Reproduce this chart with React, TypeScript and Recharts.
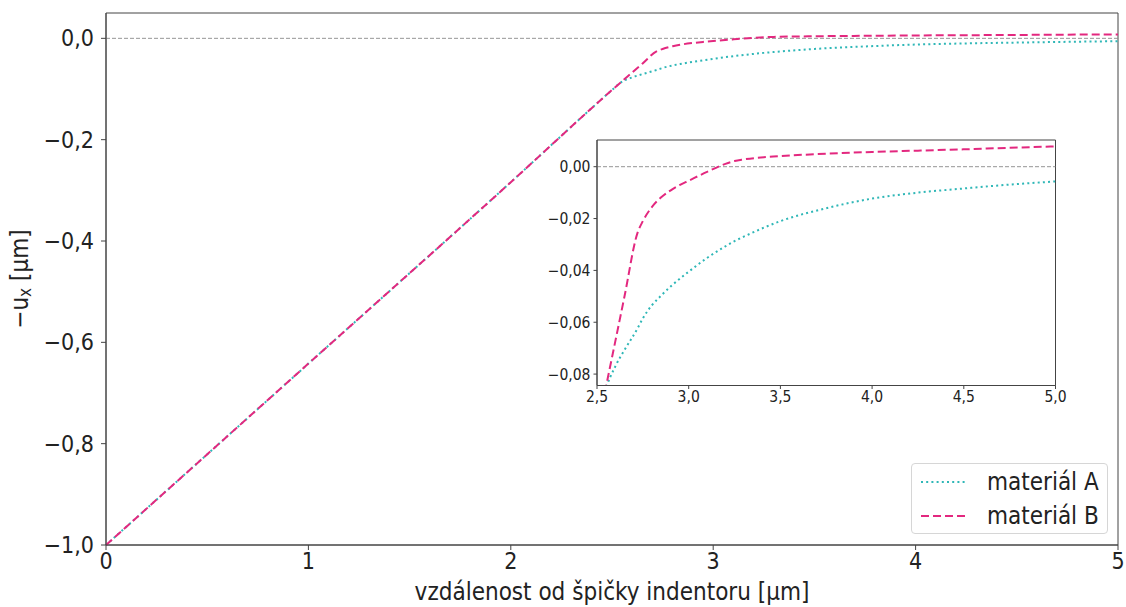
import { LineChart, Line, XAxis, YAxis, ReferenceLine, ReferenceArea, CartesianGrid } from 'recharts';

// distance from the indenter tip [μm]
const xValues = [0, 1, 2, 2.5, 2.54, 2.6, 2.65, 2.72, 2.75, 2.8, 2.85, 2.9, 2.95, 3.0, 3.1, 3.2, 3.25, 3.3, 3.5, 3.75, 4.0, 4.25, 4.5, 4.75, 5.0];
const materialA = [-1, -0.642, -0.284, -0.102, -0.088, -0.077, -0.0707, -0.0625, -0.0585, -0.0534, -0.0497, -0.0463, -0.0433, -0.0405, -0.0352, -0.0307, -0.0287, -0.027, -0.021, -0.016, -0.0123, -0.01, -0.0084, -0.0069, -0.0057];
const materialB = [-1, -0.642, -0.284, -0.102, -0.088, -0.0673, -0.05, -0.0257, -0.021, -0.0155, -0.0118, -0.0092, -0.0071, -0.0054, -0.002, 0.0011, 0.0022, 0.0028, 0.0041, 0.005, 0.0057, 0.0062, 0.0067, 0.0073, 0.0078];

const mainXTicks = [0, 1, 2, 3, 4, 5];
const mainYTicks = [-1, -0.8, -0.6, -0.4, -0.2, 0];
const insetXTicks = [2.5, 3, 3.5, 4, 4.5, 5];
const insetYTicks = [-0.08, -0.06, -0.04, -0.02, 0];

const COLOR_A = '#2fb7b7';
const COLOR_B = '#e3287f';
const FONT = '"DejaVu Sans Condensed", "DejaVu Sans", sans-serif';
const AXIS = '#444';
const TEXT = '#222';

const data = xValues.map((x, i) => ({ x, a: materialA[i], b: materialB[i] }));

const fmt = (digits: number) => (v: number) => {
  const s = Math.abs(v).toFixed(digits).replace('.', ',');
  return v < -1e-9 ? '\u2212' + s : s;
};

function YLabel({ viewBox }: any) {
  const cx = 20;
  const cy = viewBox ? viewBox.y + viewBox.height / 2 : 279;
  return (
    <text x={cx} y={cy} transform={`rotate(-90 ${cx} ${cy})`} textAnchor="middle" dominantBaseline="central"
      fontFamily={FONT} fontSize={24} fill={TEXT}>
      {'\u2212u'}
      <tspan fontSize={17} dy={5}>x</tspan>
      <tspan dy={-5}>{' [\u03bcm]'}</tspan>
    </text>
  );
}

function XLabel({ viewBox }: any) {
  const cx = viewBox ? viewBox.x + viewBox.width / 2 : 612;
  return (
    <text x={cx} y={600} textAnchor="middle" fontFamily={FONT} fontSize={24} fill={TEXT}>
      vzdálenost od špičky indentoru [μm]
    </text>
  );
}

function LegendBox() {
  const row = (color: string, dash: string, label: string) => (
    <div style={{ display: 'flex', alignItems: 'center', height: 34 }}>
      <svg width={48} height={10} style={{ marginLeft: 9 }}>
        <line x1={0} y1={5} x2={45} y2={5} stroke={color} strokeWidth={2} strokeDasharray={dash} />
      </svg>
      <span style={{ marginLeft: 18, fontSize: 24, color: TEXT, fontFamily: FONT, lineHeight: '34px' }}>{label}</span>
    </div>
  );
  return (
    <div style={{ position: 'absolute', left: 911, top: 463, border: '1px solid #d6d6d6', borderRadius: 4, background: '#fff', padding: '1px 0', width: 197, height: 71, boxSizing: 'border-box' }}>
      {row(COLOR_A, '2 3.2', 'materiál A')}
      {row(COLOR_B, '8 4', 'materiál B')}
    </div>
  );
}

export default function App() {
  return (
    <div style={{ position: 'absolute', left: 0, top: 0, width: 1126, height: 607, background: '#fff', fontFamily: FONT }}>
      <LineChart width={1126} height={607} data={data} margin={{ top: 13, right: 8, bottom: 22, left: 46 }}>
        <XAxis dataKey="x" type="number" domain={[0, 5]} ticks={mainXTicks} tickFormatter={(v: number) => String(v)}
          height={40} tickSize={5} tickMargin={3} stroke={AXIS} tick={{ fontSize: 23, fill: TEXT, fontFamily: FONT }}
          label={<XLabel />} />
        <YAxis type="number" domain={[-1, 0.05]} ticks={mainYTicks} tickFormatter={fmt(1)} width={60}
          tickSize={5} tickMargin={7} stroke={AXIS} tick={{ fontSize: 23, fill: TEXT, fontFamily: FONT }} label={<YLabel />} />
        <ReferenceArea x1={0} x2={5} y1={-1} y2={0.05} fill="none" stroke={AXIS} strokeWidth={1} />
        <ReferenceLine y={0} stroke="#8a8a8a" strokeWidth={0.9} strokeDasharray="4 2" />
        <Line type="monotone" dataKey="a" stroke={COLOR_A} strokeWidth={2} strokeDasharray="2 3.2" dot={false} isAnimationActive={false} />
        <Line type="monotone" dataKey="b" stroke={COLOR_B} strokeWidth={2} strokeDasharray="8 4" dot={false} isAnimationActive={false} />
      </LineChart>

      <div style={{ position: 'absolute', left: 540, top: 130 }}>
        <LineChart width={530} height={280} data={data} margin={{ top: 10, right: 14.5, bottom: 4.5, left: 7 }}>
          <CartesianGrid horizontal={false} vertical={false} fill="#fff" fillOpacity={1} />
          <XAxis dataKey="x" type="number" domain={[2.5, 5]} ticks={insetXTicks} tickFormatter={fmt(1)} allowDataOverflow
            height={20} tickSize={3.5} tickMargin={2} stroke={AXIS} tick={{ fontSize: 15.5, fill: TEXT, fontFamily: FONT }} />
          <YAxis type="number" domain={[-0.0844, 0.0103]} ticks={insetYTicks} tickFormatter={fmt(2)} allowDataOverflow width={50}
            tickSize={3.5} tickMargin={3} stroke={AXIS} tick={{ fontSize: 15.5, fill: TEXT, fontFamily: FONT }} />
          <ReferenceArea x1={2.5} x2={5} y1={-0.0844} y2={0.0103} fill="none" stroke={AXIS} strokeWidth={1} />
          <ReferenceLine y={0} stroke="#8a8a8a" strokeWidth={0.9} strokeDasharray="4 2" />
          <Line type="monotone" dataKey="a" stroke={COLOR_A} strokeWidth={2} strokeDasharray="2 3.2" dot={false} isAnimationActive={false} />
          <Line type="monotone" dataKey="b" stroke={COLOR_B} strokeWidth={2} strokeDasharray="8 4" dot={false} isAnimationActive={false} />
        </LineChart>
      </div>

      <LegendBox />
    </div>
  );
}
